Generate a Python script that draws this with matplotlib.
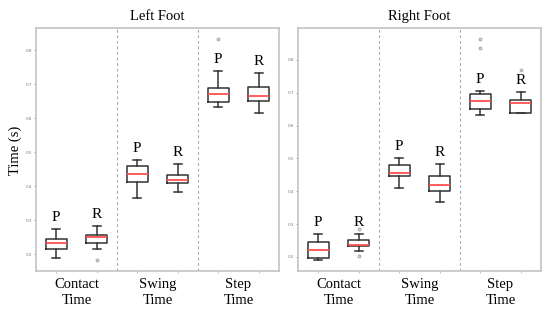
import numpy as np
import matplotlib
matplotlib.use("Agg")
import matplotlib.pyplot as plt

# === Data ===
groups = ["Contact\nTime", "Swing\nTime", "Step\nTime"]
box_labels = ["P", "R"] * 3

# order: Contact P, Contact R, Swing P, Swing R, Step P, Step R
left_whislo = [0.187, 0.215, 0.366, 0.381, 0.634, 0.616]
left_q1 = [0.216, 0.231, 0.411, 0.408, 0.648, 0.650]
left_med = [0.232, 0.249, 0.434, 0.417, 0.671, 0.666]
left_q3 = [0.245, 0.257, 0.459, 0.432, 0.689, 0.691]
left_whishi = [0.274, 0.282, 0.478, 0.466, 0.738, 0.733]
left_fliers = [[], [0.182], [], [], [0.832], []]

right_whislo = [0.191, 0.219, 0.411, 0.368, 0.633, 0.637]
right_q1 = [0.197, 0.233, 0.447, 0.401, 0.651, 0.637]
right_med = [0.221, 0.236, 0.456, 0.419, 0.676, 0.669]
right_q3 = [0.245, 0.252, 0.480, 0.445, 0.697, 0.677]
right_whishi = [0.269, 0.269, 0.502, 0.484, 0.705, 0.703]
right_fliers = [[], [0.284, 0.202], [], [], [0.864, 0.835], [0.769]]

serif = "Liberation Serif"
positions = [0.25, 0.75, 1.25, 1.75, 2.25, 2.75]


def draw_panel(ax, title, whislo, q1, med, q3, whishi, fliers, ylim):
    stats = []
    for i in range(6):
        stats.append(dict(med=med[i], q1=q1[i], q3=q3[i],
                          whislo=whislo[i], whishi=whishi[i],
                          fliers=np.array(fliers[i])))
    ax.bxp(stats, positions=positions, widths=0.26, capwidths=0.1,
           boxprops=dict(color="#333333", linewidth=1.1),
           whiskerprops=dict(color="#333333", linewidth=1.1),
           capprops=dict(color="#333333", linewidth=1.1),
           medianprops=dict(color="#ff5050", linewidth=1.3),
           flierprops=dict(marker="o", markersize=2.2, markerfacecolor="#d0d0d0",
                           markeredgecolor="#9a9a9a", markeredgewidth=0.5))

    for i in range(6):
        ax.annotate(box_labels[i], (positions[i], whishi[i]), xytext=(0, 3.5),
                    textcoords="offset points", ha="center", va="bottom",
                    fontsize=11, family=serif)

    for x in [1, 2]:
        ax.axvline(x, color="#aaaaaa", linestyle=(0, (2.5, 2.5)), linewidth=0.8)

    ax.set_xlim(0, 3)
    ax.set_ylim(*ylim)
    ax.set_yticks([0.2, 0.3, 0.4, 0.5, 0.6, 0.7, 0.8])
    ax.set_yticklabels(["0.2", "0.3", "0.4", "0.5", "0.6", "0.7", "0.8"])
    ax.tick_params(axis="y", labelsize=3, colors="#777777", length=1.5, width=0.5, pad=1)

    ax.set_xticks(positions)
    ax.set_xticklabels([""] * 6)
    ax.tick_params(axis="x", which="major", length=1.5, width=0.5, colors="#aaaaaa")
    ax.set_xticks([0.5, 1.5, 2.5], minor=True)
    ax.set_xticklabels(groups, minor=True, fontsize=10.5, family=serif,
                       linespacing=1.3)
    ax.tick_params(axis="x", which="minor", length=0, pad=5, labelcolor="black")

    for s in ax.spines.values():
        s.set_color("#c4c4c4")
        s.set_linewidth(1.2)

    ax.set_title(title, fontsize=10.5, family=serif, pad=6)


fig = plt.figure(figsize=(5.5, 3.15), dpi=100)
ax1 = fig.add_axes([36 / 550, 1 - 271 / 315, 243 / 550, 243 / 315])
ax2 = fig.add_axes([298 / 550, 1 - 271 / 315, 243 / 550, 243 / 315])

draw_panel(ax1, "Left Foot", left_whislo, left_q1, left_med, left_q3,
           left_whishi, left_fliers, (0.15, 0.865))
draw_panel(ax2, "Right Foot", right_whislo, right_q1, right_med, right_q3,
           right_whishi, right_fliers, (0.157, 0.897))

fig.text(15 / 550, 1 - 150 / 315, "Time (s)", rotation=90, ha="center", va="center",
         fontsize=10.5, family=serif)

fig.savefig("out.png", dpi=100)
